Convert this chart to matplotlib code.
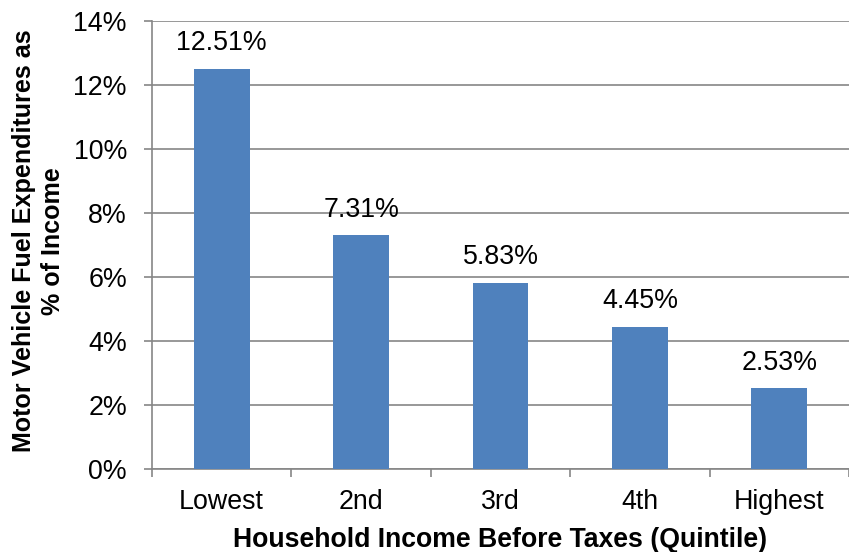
import matplotlib.pyplot as plt
from matplotlib.ticker import FuncFormatter

plt.rcParams['font.family'] = ['Liberation Sans', 'DejaVu Sans']

quintiles = ['Lowest', '2nd', '3rd', '4th', 'Highest']
fuel_share = [12.51, 7.31, 5.83, 4.45, 2.53]
yticks = [0, 2, 4, 6, 8, 10, 12, 14]

grid_col = '#868686'
bar_col = '#4F81BD'

fig = plt.figure(figsize=(8.49, 5.52), dpi=100)
ax = fig.add_axes([0.179, 0.150, 0.821, 0.812])

x = range(len(quintiles))
bars = ax.bar(x, fuel_share, width=0.4, color=bar_col, zorder=3)

for b, v in zip(bars, fuel_share):
    ax.annotate(f'{v:.2f}%', (b.get_x() + b.get_width() / 2, v),
                xytext=(0, 9), textcoords='offset points',
                ha='center', va='bottom', fontsize=19.3)

ax.set_xlim(-0.5, len(quintiles) - 0.5)
ax.set_ylim(0, 14)
ax.set_yticks(yticks)
ax.yaxis.set_major_formatter(FuncFormatter(lambda v, p: f'{v:.0f}%'))
ax.yaxis.grid(True, color=grid_col, linewidth=1.2, zorder=0)

# category labels centred, tick marks on the category boundaries
ax.set_xticks(list(x))
ax.set_xticklabels(quintiles)
ax.tick_params(axis='x', which='major', length=0, pad=14, labelsize=19.3)
ax.set_xticks([i - 0.5 for i in range(len(quintiles) + 1)], minor=True)
ax.tick_params(axis='x', which='minor', length=6, width=1.2, color=grid_col, direction='out')
ax.tick_params(axis='y', length=6, width=1.2, color=grid_col, labelsize=19.3, pad=12)

for s in ['top', 'right']:
    ax.spines[s].set_visible(False)
for s in ['left', 'bottom']:
    ax.spines[s].set_color(grid_col)
    ax.spines[s].set_linewidth(1.2)

ax.set_xlabel('Household Income Before Taxes (Quintile)', fontsize=19.2,
              fontweight='bold', labelpad=9)
ax.set_ylabel('Motor Vehicle Fuel Expenditures as\n% of Income', fontsize=18.1,
              fontweight='bold', linespacing=1.25)
ax.yaxis.set_label_coords(-0.125, 0.509)

fig.savefig('out.png', dpi=100)
